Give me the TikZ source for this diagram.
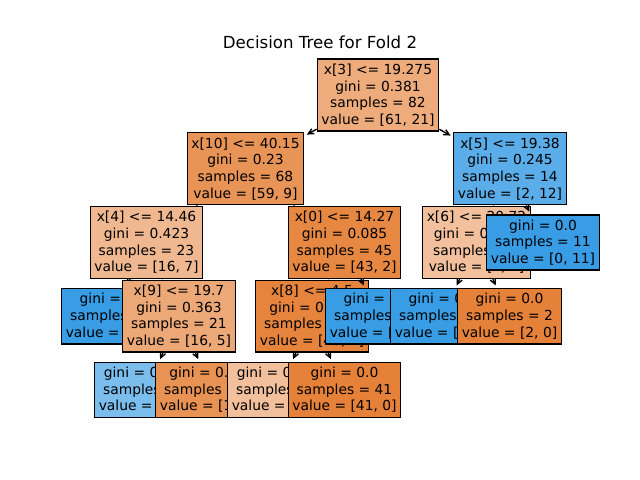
\documentclass[tikz,border=0pt]{standalone}
\usepackage{fontspec}
\setmainfont{DejaVu Sans}
\usepackage{tikz}
\usetikzlibrary{arrows.meta}
\definecolor{orng}{RGB}{229,129,57}
\definecolor{blu}{RGB}{57,157,229}
\definecolor{rootcol}{RGB}{238,172,125}
\definecolor{tenA}{RGB}{233,148,87}
\definecolor{fourA}{RGB}{240,184,144}
\definecolor{zeroA}{RGB}{230,135,66}
\definecolor{fiveA}{RGB}{90,173,233}
\definecolor{nineA}{RGB}{237,168,119}
\definecolor{nineL}{RGB}{123,190,238}
\definecolor{nineR}{RGB}{232,146,83}
\definecolor{eightA}{RGB}{230,132,62}
\definecolor{pale}{RGB}{242,192,156}
\pgfdeclarelayer{lv1}
\pgfdeclarelayer{lv2}
\pgfdeclarelayer{lv3}
\pgfdeclarelayer{lv4}
\pgfsetlayers{lv4,lv3,lv2,lv1,main}
\tikzstyle{treebox}=[rectangle,draw=black,line width=1pt,align=center,
inner xsep=3pt,inner ysep=3.5pt,font=\fontsize{10}{12}\selectfont]
\tikzstyle{treeedge}=[-{Straight Barb[length=4pt,width=4pt]},shorten >=2pt,
line width=1pt]

\begin{document}
\begin{tikzpicture}[x=0.01in,y=-0.01in]
    \useasboundingbox (0,0) rectangle (640,480);
    \node[anchor=base,font=\fontsize{12}{14}\selectfont] (title) at (320,49)
        {Decision Tree for Fold 2};

    \node[treebox,fill=rootcol] (root) at (378,95)
        {x[3] <= 19.275\\gini = 0.381\\samples = 82\\value = [61, 21]};

    % depth 1
    \begin{pgfonlayer}{lv1}
    \node[treebox,fill=tenA] (s10) at (245.5,168.75)
        {x[10] <= 40.15\\gini = 0.23\\samples = 68\\value = [59, 9]};
    \draw[treeedge] (root) -- (s10);
    \node[treebox,fill=fiveA] (s5) at (510,168.75)
        {x[5] <= 19.38\\gini = 0.245\\samples = 14\\value = [2, 12]};
    \draw[treeedge] (root) -- (s5);
    \end{pgfonlayer}

    % depth 2
    \begin{pgfonlayer}{lv2}
    \node[treebox,fill=fourA] (s4) at (146.5,242.5)
        {x[4] <= 14.46\\gini = 0.423\\samples = 23\\value = [16, 7]};
    \draw[treeedge] (s10) -- (s4);
    \node[treebox,fill=zeroA] (s0) at (344.5,242.5)
        {x[0] <= 14.27\\gini = 0.085\\samples = 45\\value = [43, 2]};
    \draw[treeedge] (s10) -- (s0);
    \node[treebox,fill=pale] (s6) at (476.5,242.5)
        {x[6] <= 20.72\\gini = 0.444\\samples = 3\\value = [2, 1]};
    \draw[treeedge] (s5) -- (s6);
    \node[treebox,fill=blu] (leafE) at (543,242.5)
        {gini = 0.0\\samples = 11\\value = [0, 11]};
    \draw[treeedge] (s5) -- (leafE);
    \end{pgfonlayer}

    % depth 3
    \begin{pgfonlayer}{lv3}
    \node[treebox,fill=blu] (leafA) at (113.5,316.25)
        {gini = 0.0\\samples = 2\\value = [0, 2]};
    \draw[treeedge] (s4) -- (leafA);
    \node[treebox,fill=nineA] (s9) at (179,316.25)
        {x[9] <= 19.7\\gini = 0.363\\samples = 21\\value = [16, 5]};
    \draw[treeedge] (s4) -- (s9);
    \node[treebox,fill=eightA] (s8) at (312,316.25)
        {x[8] <= 4.5\\gini = 0.044\\samples = 44\\value = [43, 1]};
    \draw[treeedge] (s0) -- (s8);
    \node[treebox,fill=blu] (leafB) at (377.5,316.25)
        {gini = 0.0\\samples = 1\\value = [0, 1]};
    \draw[treeedge] (s0) -- (leafB);
    \node[treebox,fill=blu] (leafC) at (442.5,316.25)
        {gini = 0.0\\samples = 1\\value = [0, 1]};
    \draw[treeedge] (s6) -- (leafC);
    \node[treebox,fill=orng] (leafD) at (509.5,316.25)
        {gini = 0.0\\samples = 2\\value = [2, 0]};
    \draw[treeedge] (s6) -- (leafD);
    \end{pgfonlayer}

    % depth 4
    \begin{pgfonlayer}{lv4}
    \node[treebox,fill=nineL] (leafF) at (146.5,390)
        {gini = 0.375\\samples = 4\\value = [1, 3]};
    \draw[treeedge] (s9) -- (leafF);
    \node[treebox,fill=nineR] (leafG) at (212,390)
        {gini = 0.208\\samples = 17\\value = [15, 2]};
    \draw[treeedge] (s9) -- (leafG);
    \node[treebox,fill=pale] (leafH) at (279.5,390)
        {gini = 0.444\\samples = 3\\value = [2, 1]};
    \draw[treeedge] (s8) -- (leafH);
    \node[treebox,fill=orng] (leafI) at (344.5,390)
        {gini = 0.0\\samples = 41\\value = [41, 0]};
    \draw[treeedge] (s8) -- (leafI);
    \end{pgfonlayer}
\end{tikzpicture}
\end{document}
